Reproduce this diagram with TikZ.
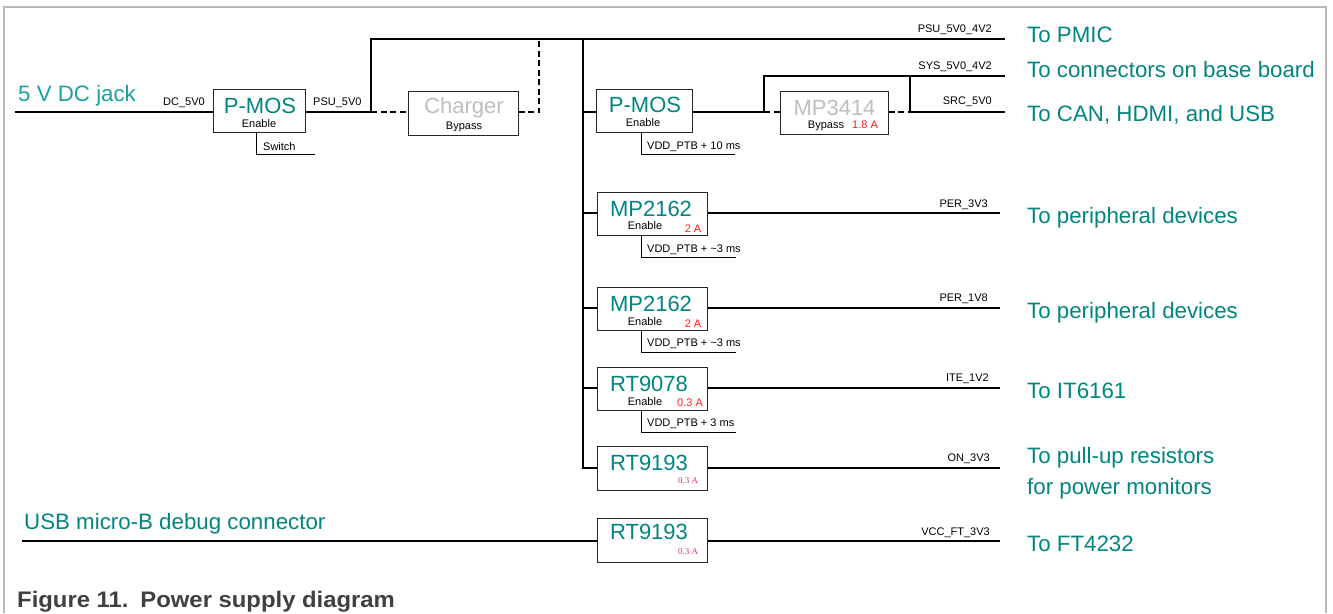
\documentclass[tikz,border=0pt]{standalone}
\usepackage{graphicx}
\usepackage{fontspec}
\setmainfont{Liberation Sans}
\newfontfamily\serifx{Liberation Serif}
\definecolor{tealA}{RGB}{0,133,128}
\definecolor{tealB}{RGB}{26,160,160}
\definecolor{grayT}{RGB}{190,190,190}
\definecolor{redT}{RGB}{255,30,30}
\definecolor{pinkT}{RGB}{232,50,100}
\definecolor{frameC}{RGB}{185,185,185}
\definecolor{capC}{RGB}{64,64,64}
\begin{document}
\begin{tikzpicture}[x=1pt,y=-1pt,
  blk/.style={draw=black!85,line width=1pt,fill=white,inner sep=0pt},
  wire/.style={line width=2.2pt,line join=miter},
  dwire/.style={line width=2.2pt,dash pattern=on 6pt off 3.5pt},
  thin/.style={line width=0.9pt},
  big/.style={inner sep=0pt,text=tealA,font=\fontsize{22}{26}\selectfont},
  bigg/.style={inner sep=0pt,text=grayT,font=\fontsize{22}{26}\selectfont},
  sm/.style={inner sep=0pt,font=\fontsize{11}{13}\selectfont},
  smr/.style={inner sep=0pt,text=redT,font=\fontsize{11}{13}\selectfont},
  smp/.style={inner sep=0pt,text=pinkT,font=\serifx\fontsize{9}{11}\selectfont},
  dest/.style={inner sep=0pt,anchor=base west,text=tealA,font=\fontsize{22.3}{26}\selectfont}]
\useasboundingbox (0,0) rectangle (1333,613);
% frame
\draw[frameC,line width=1.3pt] (4,613) -- (4,7) -- (1326,7) -- (1326,613);

% boxes
\node[blk,minimum width=92pt,minimum height=43pt] (pmos1) at (259,110.5) {};
\node[blk,minimum width=110pt,minimum height=44pt] (chg) at (463,113) {};
\node[blk,minimum width=96pt,minimum height=43pt] (pmos2) at (644,110.5) {};
\node[blk,minimum width=108pt,minimum height=43pt] (mp34) at (834,112.5) {};
\node[blk,minimum width=110pt,minimum height=43pt] (mpa) at (652,213.5) {};
\node[blk,minimum width=110pt,minimum height=43pt] (mpb) at (652,308.5) {};
\node[blk,minimum width=110pt,minimum height=43pt] (rt78) at (652,388.5) {};
\node[blk,minimum width=110pt,minimum height=44pt] (rt93a) at (652,468) {};
\node[blk,minimum width=110pt,minimum height=44pt] (rt93b) at (652,540) {};

% coordinates
\coordinate (dc0) at (15,112);
\coordinate (j1) at (371,112);
\coordinate (j1t) at (371,39);
\coordinate (j2) at (539,112);
\coordinate (j2t) at (539,39);
\coordinate (top) at (1005,39);
\coordinate (bt) at (583,39);
\coordinate (bb) at (583,468);
\coordinate (b1) at (583,112);
\coordinate (b2) at (583,213);
\coordinate (b3) at (583,308);
\coordinate (b4) at (583,388);
\coordinate (m1) at (764,112);
\coordinate (m1t) at (764,76);
\coordinate (m2) at (910,112);
\coordinate (m2t) at (910,76);
\coordinate (sys) at (1005,76);
\coordinate (src) at (1005,112);
\coordinate (o2) at (1000,213);
\coordinate (o3) at (1000,308);
\coordinate (o4) at (1000,388);
\coordinate (o5) at (1000,468);
\coordinate (o6) at (1000,541);
\coordinate (u0) at (22,541);

% main wires
\draw[wire] (dc0) -- (dc0 -| pmos1.west);
\draw[wire] (pmos1.east |- j1) -- (j1) -- (j1t) -- (top);
\draw[dwire] (j1) -- (j1 -| chg.west);
\draw[dwire] (chg.east |- j2) -- (j2) -- (j2t);
\draw[wire] (bt) -- (bb) -- (bb -| rt93a.west);
\draw[wire] (b1) -- (b1 -| pmos2.west);
\draw[wire] (pmos2.east |- m1) -- (m1);
\draw[wire] (m1) -- (m1t) -- (sys);
\draw[dwire] (m1) -- (m1 -| mp34.west);
\draw[dwire] (mp34.east |- m2) -- (m2);
\draw[wire] (m2t) -- (m2) -- (src);
\draw[wire] (b2) -- (b2 -| mpa.west);
\draw[wire] (mpa.east |- o2) -- (o2);
\draw[wire] (b3) -- (b3 -| mpb.west);
\draw[wire] (mpb.east |- o3) -- (o3);
\draw[wire] (b4) -- (b4 -| rt78.west);
\draw[wire] (rt78.east |- o4) -- (o4);
\draw[wire] (rt93a.east |- o5) -- (o5);
\draw[wire] (u0) -- (u0 -| rt93b.west);
\draw[wire] (rt93b.east |- o6) -- (o6);

% enable lines
\coordinate (sw) at (315,154);
\draw[thin] (pmos1.south -| 256,0) |- (sw);
\coordinate (e1) at (735,154);
\draw[thin] (pmos2.south -| 641,0) |- (e1);
\coordinate (e2) at (736,257);
\draw[thin] (mpa.south -| 641,0) |- (e2);
\coordinate (e3) at (736,352);
\draw[thin] (mpb.south -| 641,0) |- (e3);
\coordinate (e4) at (736,432);
\draw[thin] (rt78.south -| 641,0) |- (e4);

% box texts
\node[big,anchor=base] (t1) at (260,113) {P-MOS};
\node[sm,anchor=base] (t1e) at (259,127) {Enable};
\node[bigg,anchor=base] (t2) at (464,113) {Charger};
\node[sm,anchor=base] (t2e) at (464,129) {Bypass};
\node[big,anchor=base] (t3) at (645,112) {P-MOS};
\node[sm,anchor=base] (t3e) at (643,126) {Enable};
\node[bigg,anchor=base] (t4) at (834.5,115) {MP3414};
\node[sm,anchor=base] (t4e) at (826,128) {Bypass};
\node[smr,anchor=base] (t4a) at (865,128) {1.8 A};
\node[big,anchor=base] (t5) at (651,216) {MP2162};
\node[sm,anchor=base] (t5e) at (645,229) {Enable};
\node[smr,anchor=base] (t5a) at (693,232) {2 A};
\node[big,anchor=base] (t6) at (651,311) {MP2162};
\node[sm,anchor=base] (t6e) at (645,325) {Enable};
\node[smr,anchor=base] (t6a) at (693,327) {2 A};
\node[big,anchor=base] (t7) at (649,391) {RT9078};
\node[sm,anchor=base] (t7e) at (645,405) {Enable};
\node[smr,anchor=base] (t7a) at (690,406) {0.3 A};
\node[big,anchor=base] (t8) at (649,470) {RT9193};
\node[smp,anchor=base] (t8a) at (688,483) {0.3 A};
\node[big,anchor=base] (t9) at (649,539) {RT9193};
\node[smp,anchor=base] (t9a) at (688,554) {0.3 A};

% small net labels
\node[sm,anchor=base east] (l1) at (205,105) {DC\_5V0};
\node[sm,anchor=base west] (l2) at (313,105) {PSU\_5V0};
\node[sm,anchor=base east] (l3) at (992,32) {PSU\_5V0\_4V2};
\node[sm,anchor=base east] (l4) at (992,69) {SYS\_5V0\_4V2};
\node[sm,anchor=base east] (l5) at (992,104) {SRC\_5V0};
\node[sm,anchor=base east] (l6) at (988,207) {PER\_3V3};
\node[sm,anchor=base east] (l7) at (988,301) {PER\_1V8};
\node[sm,anchor=base east] (l8) at (989,381) {ITE\_1V2};
\node[sm,anchor=base east] (l9) at (990,461) {ON\_3V3};
\node[sm,anchor=base east] (l10) at (990,535) {VCC\_FT\_3V3};
\node[sm,anchor=base west] (l11) at (263,150) {Switch};
\node[sm,anchor=base west] (l12) at (647,149) {VDD\_PTB + 10 ms};
\node[sm,anchor=base west] (l13) at (647,252) {VDD\_PTB + \textasciitilde 3 ms};
\node[sm,anchor=base west] (l14) at (647,346) {VDD\_PTB + \textasciitilde 3 ms};
\node[sm,anchor=base west] (l15) at (647,426) {VDD\_PTB + 3 ms};

% source labels
\node[dest,text=tealB] (s1) at (18,101) {5 V DC jack};
\node[dest] (s2) at (24,529) {USB micro-B debug connector};

% destinations
\node[dest] (d1) at (1027,42) {To PMIC};
\node[dest] (d2) at (1027,77) {To connectors on base board};
\node[dest] (d3) at (1027,121) {To CAN, HDMI, and USB};
\node[dest] (d4) at (1027,223) {To peripheral devices};
\node[dest] (d5) at (1027,318) {To peripheral devices};
\node[dest] (d6) at (1027,398) {To IT6161};
\node[dest] (d7) at (1027,463) {To pull-up resistors};
\node[dest] (d8) at (1027,494) {for power monitors};
\node[dest] (d9) at (1027,551) {To FT4232};

% caption
\node[inner sep=0pt,anchor=base west,text=capC,font=\bfseries\fontsize{22.5}{26}\selectfont] (cap) at (17,607) {\scalebox{1.06}[1]{Figure 11.\hspace{0.5em}Power supply diagram}};
\end{tikzpicture}
\end{document}
